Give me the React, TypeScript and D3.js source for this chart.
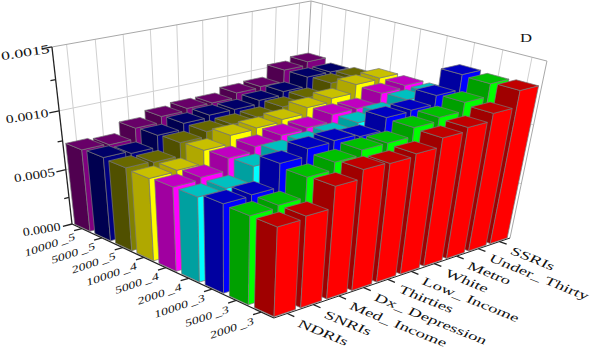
import React from 'react';
import * as d3 from 'd3';

// front to back along the left floor axis
const doseLabels = ['2000 _3', '5000 _3', '10000 _3', '2000 _4', '5000 _4', '10000 _4', '2000 _5', '5000 _5', '10000 _5'];
// front to back along the right floor axis
const featureLabels = ['NDRIs', 'SNRIs', 'Med_ Income', 'Dx_ Depression', 'Thirties', 'Low_ Income', 'White', 'Metro', 'Under_ Thirty', 'SSRIs'];
const zTicks = [0, 0.0005, 0.001, 0.0015];
const zMinorTicks = [0.00025, 0.00075, 0.00125];
// the value labels get wider towards the top of the axis
const zLabelWidths = [38, 41, 43, 49];
const zLabelNudge = [2, 3, 4, 13];

const row2000_3 = [0.00075, 0.00077, 0.00094, 0.00101, 0.001, 0.00102, 0.00109, 0.00112, 0.00118, 0.00131];
const row5000_3 = [0.00075, 0.00077, 0.00093, 0.00099, 0.00103, 0.00103, 0.0011, 0.00113, 0.0012, 0.0013];
const row10000_3 = [0.00076, 0.00077, 0.00096, 0.00102, 0.00103, 0.00101, 0.00111, 0.00112, 0.00119, 0.00131];
const row2000_4 = [0.00073, 0.00074, 0.00086, 0.00092, 0.00094, 0.00096, 0.001, 0.00103, 0.00109, 0.0011];
const row5000_4 = [0.00073, 0.00075, 0.00085, 0.00089, 0.00093, 0.00094, 0.001, 0.001, 0.00108, 0.0011];
const row10000_4 = [0.00072, 0.00073, 0.00084, 0.00091, 0.00092, 0.00094, 0.00099, 0.00102, 0.00109, 0.0011];
const row2000_5 = [0.00073, 0.00072, 0.00083, 0.00087, 0.00088, 0.00089, 0.00093, 0.00096, 0.00104, 0.00105];
const row5000_5 = [0.00074, 0.00072, 0.00082, 0.00087, 0.00089, 0.00089, 0.00092, 0.00095, 0.00103, 0.00103];
const row10000_5 = [0.00073, 0.00072, 0.00081, 0.00086, 0.00088, 0.00088, 0.00092, 0.00093, 0.00103, 0.00106];
const rows = [row2000_3, row5000_3, row10000_3, row2000_4, row5000_4, row10000_4, row2000_5, row5000_5, row10000_5];

const rightColors = ['#ff0000', '#00ff00', '#0000ff', '#00ffff', '#ff00ff', '#ffff00', '#808000', '#000080', '#800080'];
const leftColors = ['#a00000', '#00a000', '#0000a0', '#00a0a0', '#a000a0', '#b0a800', '#505000', '#000050', '#500050'];
const topColors = ['#c00000', '#00c000', '#0000c0', '#00c0c0', '#c000c0', '#c8c000', '#686800', '#000068', '#680068'];

// camera matrix fitted to the box corners in the picture
const P = [
  [-166.2, 267.2, -26, 238.2],
  [-52.5, -40.6, -182.4, 276.5],
  [0.1305, 0.1215, -0.1145, 0.8695],
];

const project = (u: number, v: number, h: number): [number, number] => {
  const w = P[2][0] * u + P[2][1] * v + P[2][2] * h + P[2][3];
  return [
    (P[0][0] * u + P[0][1] * v + P[0][2] * h + P[0][3]) / w,
    (P[1][0] * u + P[1][1] * v + P[1][2] * h + P[1][3]) / w,
  ];
};

const uBand = d3.scaleBand<number>().domain(d3.range(doseLabels.length)).range([0, 1]).paddingInner(0.24).paddingOuter(0.06);
const vBand = d3.scaleBand<number>().domain(d3.range(featureLabels.length)).range([0, 1]).paddingInner(0.2).paddingOuter(0.06);
const zScale = d3.scaleLinear().domain([0, 0.0015]).range([0, 1]);
const uTick = d3.scalePoint<number>().domain(d3.range(doseLabels.length)).range([0, 1]).padding(0.5);
const vTick = d3.scalePoint<number>().domain(d3.range(featureLabels.length)).range([0, 1]).padding(0.5);

const poly = (pts: [number, number, number][]) => {
  const line = d3.line();
  return line(pts.map(p => project(p[0], p[1], p[2])))! + 'Z';
};
const seg = (a: [number, number, number], b: [number, number, number]) => {
  const p = project(a[0], a[1], a[2]);
  const q = project(b[0], b[1], b[2]);
  return { x1: p[0], y1: p[1], x2: q[0], y2: q[1] };
};

const serif = '"Liberation Serif", "Times New Roman", serif';

export default function App() {
  const bars: React.ReactNode[] = [];
  for (let i = rows.length - 1; i >= 0; i--) {
    for (let j = featureLabels.length - 1; j >= 0; j--) {
      const u0 = uBand(i)!;
      const u1 = u0 + uBand.bandwidth();
      const v0 = vBand(j)!;
      const v1 = v0 + vBand.bandwidth();
      const h = zScale(rows[i][j]);
      bars.push(
        <g key={i + '-' + j} stroke="#777" strokeWidth={0.7} strokeLinejoin="round">
          <path d={poly([[u0, v0, 0], [u1, v0, 0], [u1, v0, h], [u0, v0, h]])} fill={leftColors[i]} />
          <path d={poly([[u0, v0, 0], [u0, v1, 0], [u0, v1, h], [u0, v0, h]])} fill={rightColors[i]} />
          <path d={poly([[u0, v0, h], [u1, v0, h], [u1, v1, h], [u0, v1, h]])} fill={topColors[i]} />
        </g>
      );
    }
  }

  return (
    <svg width={598} height={349} style={{ position: 'absolute', left: 0, top: 0 }}>
      {/* back walls */}
      <g stroke="#d0d0d0" strokeWidth={1}>
        {vTick.domain().map(j => <line key={'wl' + j} {...seg([1, vTick(j)!, 0], [1, vTick(j)!, 1])} />)}
        {uTick.domain().map(i => <line key={'wr' + i} {...seg([uTick(i)!, 1, 0], [uTick(i)!, 1, 1])} />)}
        {zTicks.slice(1, 3).map(t => (
          <g key={'wh' + t}>
            <line {...seg([1, 0, zScale(t)], [1, 1, zScale(t)])} />
            <line {...seg([1, 1, zScale(t)], [0, 1, zScale(t)])} />
          </g>
        ))}
      </g>
      <g stroke="#a8a8a8" strokeWidth={1}>
        <line {...seg([1, 0, 1], [1, 1, 1])} />
        <line {...seg([1, 1, 1], [0, 1, 1])} />
        <line {...seg([0, 1, 0], [0, 1, 1])} />
        <line {...seg([1, 1, 0], [1, 1, 1])} />
      </g>
      {bars}
      {/* axes */}
      <g stroke="#222" strokeWidth={1.3}>
        <line {...seg([1, 0, 0], [1, 0, 1])} />
        <line {...seg([1, 0, 0], [0, 0, 0])} />
        <line {...seg([0, 0, 0], [0, 1, 0])} strokeWidth={1} />
        {zTicks.map(t => <line key={'zt' + t} {...seg([1, 0, zScale(t)], [1, -0.035, zScale(t)])} />)}
        {zMinorTicks.map(t => <line key={'zm' + t} {...seg([1, 0, zScale(t)], [1, -0.018, zScale(t)])} />)}
        {uTick.domain().map(i => <line key={'ut' + i} {...seg([uTick(i)!, 0, 0], [uTick(i)!, -0.03, 0])} />)}
        {vTick.domain().map(j => <line key={'vt' + j} {...seg([0, vTick(j)!, 0], [-0.03, vTick(j)!, 0])} />)}
      </g>
      {/* labels */}
      <g fontFamily={serif} fill="#111">
        {zTicks.map((t, k) => {
          const p = project(1, -0.05, zScale(t));
          return (
            <text key={'zl' + t} fontSize={12} textAnchor="start" textLength={zLabelWidths[k]} lengthAdjust="spacingAndGlyphs"
              transform={`translate(${p[0] + zLabelNudge[k]},${p[1] + 3}) rotate(-9) translate(${-zLabelWidths[k]},0)`}>
              {d3.format('.4f')(t)}
            </text>
          );
        })}
        {doseLabels.map((d, i) => {
          const p = project(uTick(i)!, -0.045, 0);
          return (
            <text key={d} fontSize={12} textAnchor="end" transform={`translate(${p[0] + 5},${p[1] + 8}) rotate(-19) skewX(-15) scale(1.18,0.85)`}>
              {d}
            </text>
          );
        })}
        {featureLabels.map((d, j) => {
          const p = project(-0.045, vTick(j)!, 0);
          return (
            <text key={d} fontSize={13} textAnchor="start" transform={`translate(${p[0] - 1},${p[1] + 8}) rotate(22) skewX(-10) scale(1.42,0.92)`}>
              {d}
            </text>
          );
        })}
        <text fontSize={13} transform="translate(520,42) scale(1.28,1)">D</text>
      </g>
    </svg>
  );
}
